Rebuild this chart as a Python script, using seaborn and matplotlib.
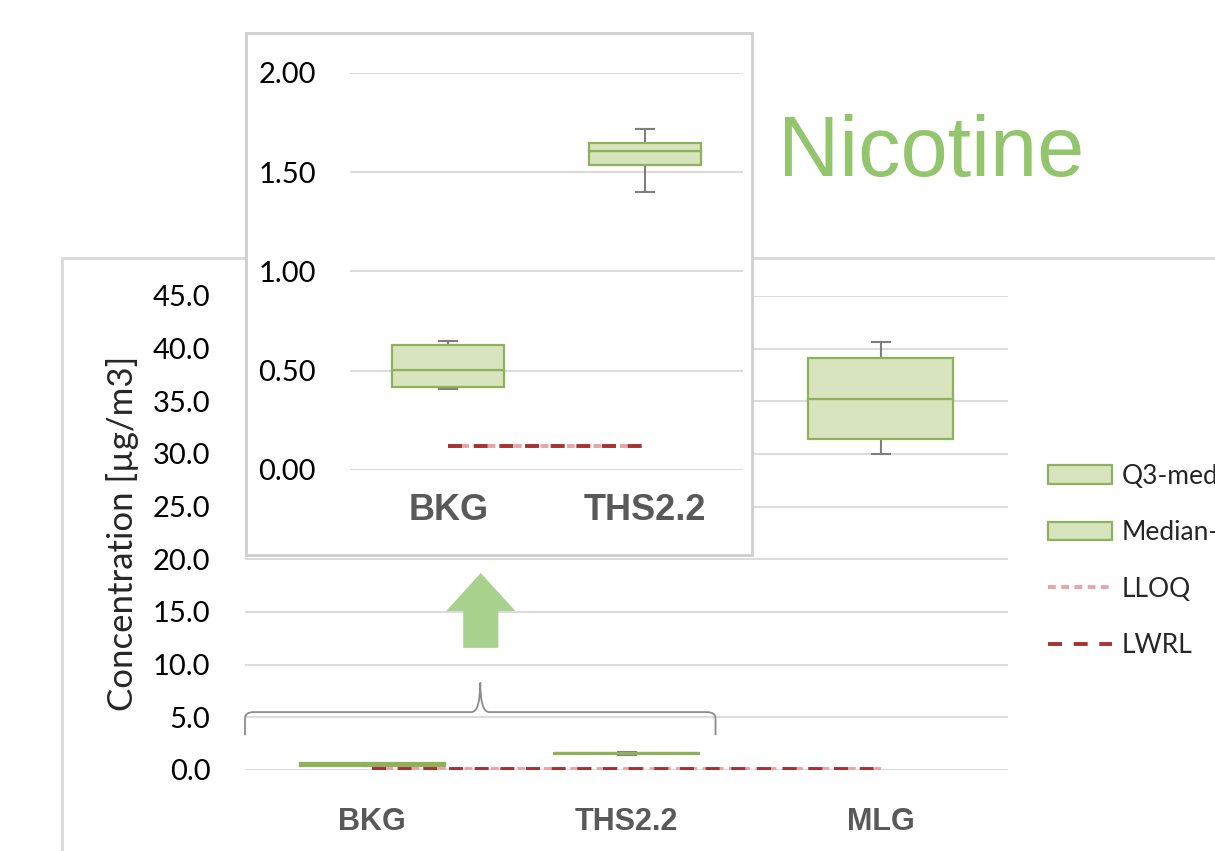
import numpy as np
import pandas as pd
import seaborn as sns
import matplotlib.pyplot as plt
import matplotlib.patches as mpatches
from matplotlib.path import Path
from matplotlib.lines import Line2D

# values
categories = ["BKG", "THS2.2", "MLG"]
q1 = [0.42, 1.535, 31.4]
median = [0.503, 1.607, 35.2]
q3 = [0.63, 1.644, 39.1]
whisker_low = [0.41, 1.398, 30.0]
whisker_high = [0.65, 1.716, 40.6]
lloq = [0.12, 0.12, 0.12]
lwrl = [0.12, 0.12, 0.12]
inset_categories = ["BKG", "THS2.2"]
main_yticks = [0, 5, 10, 15, 20, 25, 30, 35, 40, 45]
inset_yticks = [0.0, 0.5, 1.0, 1.5, 2.0]

FILL = "#D7E4BD"
EDGE = "#8FB15B"
WHISK = "#7F7F7F"
LLOQ_C = "#E8A5A5"
LWRL_C = "#A83232"
GRID = "#DCDCDC"

sns.set_style("white")
plt.rcParams["font.family"] = ["Lato", "DejaVu Sans"]

W, H = 1215, 851
fig = plt.figure(figsize=(W / 100, H / 100), dpi=100)


def fx(px):
    return px / W


def fy(py):
    return 1 - py / H


def draw_boxes(ax, cats, n, xfont, yfmt, ylim, yticks, ypad, xpad):
    df = pd.DataFrame({
        "cat": cats,
        "lower": np.array(median[:n]) - np.array(q1[:n]),
        "upper": np.array(q3[:n]) - np.array(median[:n]),
    })
    # whiskers first so the boxes cover the middle part
    ax.errorbar(np.arange(n), median[:n],
                yerr=[np.array(median[:n]) - np.array(whisker_low[:n]),
                      np.array(whisker_high[:n]) - np.array(median[:n])],
                fmt="none", ecolor=WHISK, elinewidth=1.5, capsize=7, capthick=1.5, zorder=0.9)
    sns.barplot(data=df, x="cat", y="lower", order=cats, ax=ax, color=FILL, saturation=1,
                width=0.57, bottom=np.array(q1[:n]), edgecolor=EDGE, linewidth=1.6, errorbar=None)
    sns.barplot(data=df, x="cat", y="upper", order=cats, ax=ax, color=FILL, saturation=1,
                width=0.57, bottom=np.array(median[:n]), edgecolor=EDGE, linewidth=1.6, errorbar=None)
    ax.plot(np.arange(n), lloq[:n], color=LLOQ_C, lw=2.8, dashes=(2.0, 1.4), zorder=3)
    ax.plot(np.arange(n), lwrl[:n], color=LWRL_C, lw=2.8, dashes=(3.6, 3.0), zorder=3.1)

    ax.set_xlim(-0.5, n - 0.5)
    ax.set_ylim(*ylim)
    ax.set_yticks(yticks)
    ax.set_yticklabels([yfmt.format(v) for v in yticks])
    ax.set_xlabel("")
    ax.set_ylabel("")
    ax.yaxis.grid(True, color=GRID, lw=1.5)
    ax.set_axisbelow(True)
    for s in ax.spines.values():
        s.set_visible(False)
    ax.tick_params(axis="y", length=0, pad=ypad, labelsize=21, labelcolor="black")
    ax.tick_params(axis="x", length=0, pad=xpad)
    for lab in ax.get_xticklabels():
        lab.set_fontfamily("Liberation Sans")
        lab.set_fontweight("bold")
        lab.set_fontsize(xfont)
        lab.set_color("#595959")
    ax.set_facecolor("none")


# main chart
ax = fig.add_axes([fx(245), fy(770), fx(1008) - fx(245), fy(296) - fy(770)])
draw_boxes(ax, categories, 3, 22, "{:.1f}", (0, 45), main_yticks, 25, 27)
ax.set_ylabel("Concentration [µg/m3]", fontsize=25, labelpad=10)

# brace under the inset
bx0, bx1, peak, by, btop, bend = -0.5, 1.35, 0.425, 5.5, 8.3, 3.3
verts = [(bx0, bend), (bx0, by - 0.6), (bx0, by), (bx0 + 0.035, by),
         (peak - 0.035, by), (peak, by), (peak, btop),
         (peak, by), (peak + 0.035, by),
         (bx1 - 0.035, by), (bx1, by), (bx1, by - 0.6), (bx1, bend)]
codes = [Path.MOVETO, Path.LINETO, Path.CURVE3, Path.CURVE3,
         Path.LINETO, Path.CURVE3, Path.CURVE3,
         Path.CURVE3, Path.CURVE3,
         Path.LINETO, Path.CURVE3, Path.CURVE3, Path.LINETO]
ax.add_patch(mpatches.PathPatch(Path(verts, codes), fill=False, edgecolor="#8C8C8C",
                                lw=1.3, clip_on=False, zorder=4))

# green arrow pointing up to the inset
ax.add_patch(mpatches.FancyArrow(0.427, 11.6, 0, 7.1, width=0.138, head_width=0.272,
                                 head_length=3.6, length_includes_head=True,
                                 color="#A9D18E", lw=0, clip_on=False, zorder=4))

# outer chart frame (only left and top visible)
fig.add_artist(mpatches.Rectangle((fx(62), -0.2), 1.2, fy(258) + 0.2, transform=fig.transFigure,
                                  fill=False, edgecolor="#D9D9D9", lw=2, zorder=-1))

# inset frame and inset chart
fig.add_artist(mpatches.Rectangle((fx(246), fy(555)), fx(752) - fx(246), fy(33) - fy(555),
                                  transform=fig.transFigure, facecolor="white",
                                  edgecolor="#CFCFCF", lw=2, zorder=1))
axi = fig.add_axes([fx(350), fy(470), fx(743) - fx(350), fy(72.7) - fy(470)])
axi.set_zorder(3)
draw_boxes(axi, inset_categories, 2, 26, "{:.2f}", (0, 2), inset_yticks, 24.5, 16.5)

# title
fig.text(fx(778), fy(176), "Nicotine", fontsize=61, color="#92C56C",
         family="Liberation Sans", ha="left", va="baseline")

# legend, partly cut by the right edge like the original
handles = [
    mpatches.Patch(facecolor=FILL, edgecolor=EDGE, lw=1.6),
    mpatches.Patch(facecolor=FILL, edgecolor=EDGE, lw=1.6),
    Line2D([], [], color=LLOQ_C, lw=2.8, dashes=(2.0, 1.4)),
    Line2D([], [], color=LWRL_C, lw=2.8, dashes=(3.6, 3.0)),
]
labels = ["Q3-median", "Median-Q1", "LLOQ", "LWRL"]
fig.legend(handles, labels, loc="upper left", bbox_to_anchor=(fx(1024), fy(440)),
           frameon=False, fontsize=19, handlelength=2.45, handleheight=0.7,
           handletextpad=0.35, labelspacing=1.19)

fig.savefig("out.png", dpi=100)
